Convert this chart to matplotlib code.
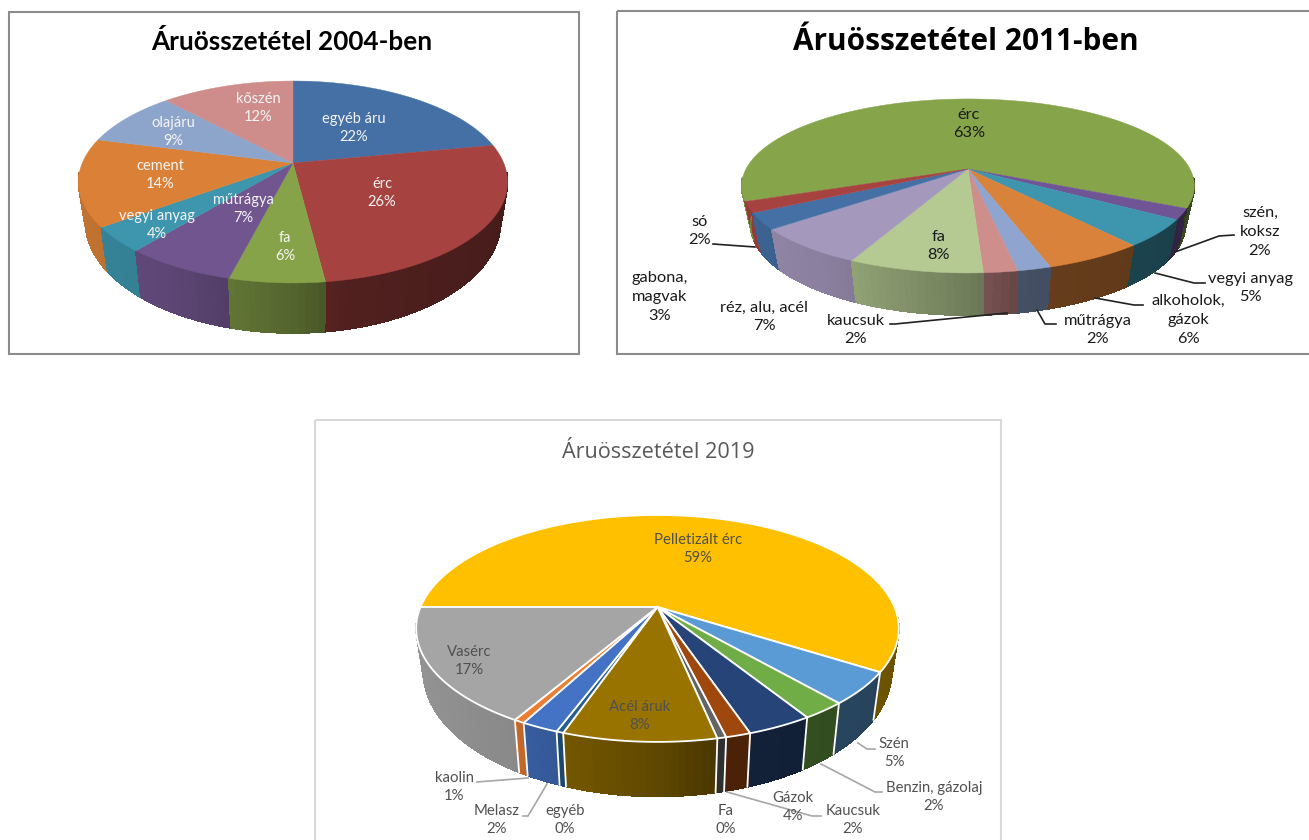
import numpy as np
import matplotlib
matplotlib.use('Agg')
import matplotlib.pyplot as plt
from matplotlib.collections import PolyCollection
from matplotlib.patches import Rectangle

plt.rcParams['font.family'] = ['Lato', 'DejaVu Sans']

# 2004 chart
names_2004 = ['egyéb áru', 'érc', 'fa', 'műtrágya', 'vegyi anyag', 'cement', 'olajáru', 'kőszén']
values_2004 = [22, 26, 6, 7, 4, 14, 9, 12]
percent_2004 = ['22%', '26%', '6%', '7%', '4%', '14%', '9%', '12%']
colors_2004 = ['#4470a5', '#a64340', '#87a34a', '#71558e', '#3d96ae', '#da8137', '#8ea5cb', '#ce8d8b']
centers_2004 = [(354, 128), (382, 193), (285, 247), (243, 209), (157, 225), (160, 175), (173, 132), (258, 108)]

# 2011 chart
names_2011 = ['érc', 'szén,\nkoksz', 'vegyi anyag', 'alkoholok,\ngázok', 'műtrágya', 'kaucsuk', 'fa',
              'réz, alu, acél', 'gabona,\nmagvak', 'só']
values_2011 = [63, 2, 5, 6, 2, 2, 8, 7, 3, 2]
percent_2011 = ['63%', '2%', '5%', '6%', '2%', '2%', '8%', '7%', '3%', '2%']
colors_2011 = ['#86a44a', '#6f5496', '#3d96ae', '#d9823b', '#8fa5cf', '#ce8e8c', '#b5ca92', '#a598bd',
               '#4470a5', '#a64340']
centers_2011 = [(969, 124), (1260, 232), (1250, 288), (1188, 320), (1098, 330), (856, 330), (939, 246),
                (764, 317), (660, 297), (700, 231)]
leaders_2011 = [[(713, 244), (755, 247)],
                [(1175, 252), (1219, 236), (1234, 235)],
                [(1155, 273), (1194, 283), (1205, 283)],
                [(1095, 298), (1134, 305), (1143, 305)],
                [(1037, 310), (1045, 324), (1056, 324)],
                [(1007, 313), (895, 324), (890, 324)]]

# 2019 chart, the "0%" slices still have a visible width
names_2019 = ['Pelletizált érc', 'Szén', 'Benzin, gázolaj', 'Gázok', 'Kaucsuk', 'Fa', 'Acél áruk', 'egyéb',
              'Melasz', 'kaolin', 'Vasérc']
values_2019 = [59, 4.6, 2.5, 3.7, 1.4, 0.5, 8.6, 0.4, 2.1, 0.6, 16.6]
percent_2019 = ['59%', '5%', '2%', '4%', '2%', '0%', '8%', '0%', '2%', '1%', '17%']
colors_2019 = ['#ffc000', '#5b9bd5', '#70ad47', '#264478', '#9e480e', '#636363', '#997300', '#255e91',
               '#4472c4', '#ed7d31', '#a5a5a5']
centers_2019 = [(698, 549), (894, 753), (934, 797), (793, 807), (853, 820), (726, 820), (640, 716), (565, 820),
                (497, 820), (454, 787), (469, 661)]
leaders_2019 = [[(477, 782), (528, 778)],
                [(523, 816), (528, 816), (547, 784)],
                [(727, 792), (812, 816), (821, 816)],
                [(821, 764), (875, 792), (882, 792)],
                [(858, 743), (867, 749), (875, 749)]]


def wall_shade(u):
    # side walls get darker going from left to right
    return np.interp(u, [-1, -0.5, 0, 0.2, 1], [0.9, 0.83, 0.62, 0.48, 0.42])


def draw_pie(ax, values, colors, start, cx, cy, radius, height, k, sx, sy, drop, edge=None):
    # perspective view of a circle, angles go clockwise from the top
    def top_xy(theta):
        u, v = np.sin(theta), np.cos(theta)
        w = 1 + k * v
        return cx + radius * u / w, cy - height * v / w

    def bottom_xy(theta):
        x, y = top_xy(theta)
        return cx + (x - cx) * sx, cy + (y - cy) * sy + drop

    edges = np.radians(start + np.cumsum([0] + list(values)) * 3.6)

    # walls first, back to front, cut in thin strips for the shading
    strips = []
    for i, c in enumerate(colors):
        n = max(2, int(np.degrees(edges[i + 1] - edges[i]) / 1.5))
        t = np.linspace(edges[i], edges[i + 1], n + 1)
        rgb = np.array(matplotlib.colors.to_rgb(c))
        for a, b in zip(t[:-1], t[1:]):
            mid = (a + b) / 2
            if np.cos(mid) > -0.1:
                continue
            xa, ya = top_xy(a)
            xb, yb = top_xy(b)
            xc, yc = bottom_xy(b)
            xd, yd = bottom_xy(a)
            strips.append((np.cos(mid), [(xa, ya), (xb, yb), (xc, yc), (xd, yd)],
                           rgb * wall_shade(np.sin(mid))))
    strips.sort(key=lambda s: -s[0])
    cols = [s[2] for s in strips]
    ax.add_collection(PolyCollection([s[1] for s in strips], facecolors=cols, edgecolors=cols,
                                     linewidths=0.6, antialiaseds=False, zorder=2))
    # smooth lower rim over the unsmoothed strips
    for s in strips:
        ax.plot([s[1][2][0], s[1][3][0]], [s[1][2][1], s[1][3][1]], color=s[2], lw=0.8, zorder=2,
                solid_capstyle='round')

    if edge:
        for a in edges:
            if np.cos(a) < -0.2:
                x0, y0 = top_xy(a)
                x1, y1 = bottom_xy(a)
                ax.plot([x0, x1], [y0, y1], color=edge, lw=1.3, zorder=3)

    # top surface
    for i, c in enumerate(colors):
        t = np.linspace(edges[i], edges[i + 1], 200)
        x, y = top_xy(t)
        ax.fill(np.r_[cx, x], np.r_[cy, y], facecolor=c, edgecolor=edge if edge else c,
                linewidth=1.3 if edge else 0.3, joinstyle='round', zorder=4)


def draw_labels(ax, names, percents, centers, color, size, family=None):
    for name, pct, (x, y) in zip(names, percents, centers):
        kw = {'family': family} if family else {}
        ax.text(x, y, name + '\n' + pct, ha='center', va='center', color=color, fontsize=size,
                linespacing=1.45, zorder=6, **kw)


def draw_leaders(ax, leaders, color, lw):
    for points in leaders:
        xs, ys = zip(*points)
        ax.plot(xs, ys, color=color, lw=lw, zorder=5)


fig = plt.figure(figsize=(13.09, 8.4), dpi=100, facecolor='white')
ax = fig.add_axes([0, 0, 1, 1])
ax.set_xlim(0, 1309)
ax.set_ylim(840, 0)
ax.axis('off')

# frames
ax.add_patch(Rectangle((9, 12), 570, 342, fill=False, edgecolor='#8c8c8c', lw=1.5, zorder=1))
ax.add_patch(Rectangle((617, 11), 700, 343, fill=False, edgecolor='#8c8c8c', lw=1.5, zorder=1))
ax.add_patch(Rectangle((315, 420), 686, 430, fill=False, edgecolor='#d9d9d9', lw=1.5, zorder=1))

# titles
ax.text(292, 42, 'Áruösszetétel 2004-ben', ha='center', va='center', fontsize=18.8, fontweight='bold', color='black')
ax.text(966, 42, 'Áruösszetétel 2011-ben', ha='center', va='center', fontsize=21.4, fontweight='bold',
        family=['Open Sans', 'DejaVu Sans'], color='black')
ax.text(658, 452, 'Áruösszetétel 2019', ha='center', va='center', fontsize=15.6, color='#595959',
        family=['Open Sans', 'DejaVu Sans'])

draw_pie(ax, values_2004, colors_2004, 0, 293, 163, 210.7, 97.4, 0.188, 0.968, 1.105, 37.4)
draw_pie(ax, values_2011, colors_2011, 248.8, 968, 169, 222, 83.7, 0.195, 0.96, 1.04, 38)
draw_pie(ax, values_2019, colors_2019, 270, 657.5, 607, 237, 109.4, 0.189, 0.97, 1.1, 41, edge='white')

draw_leaders(ax, leaders_2011, '#222222', 1.2)
draw_leaders(ax, leaders_2019, '#a6a6a6', 1.2)

draw_labels(ax, names_2004, percent_2004, centers_2004, '#f4f4f4', 10.5)
draw_labels(ax, names_2011, percent_2011, centers_2011, '#1a1a1a', 11.8, family=['Lato', 'DejaVu Sans'])
draw_labels(ax, names_2019, percent_2019, centers_2019, '#505050', 10.7)

fig.savefig('out.png', dpi=100)
